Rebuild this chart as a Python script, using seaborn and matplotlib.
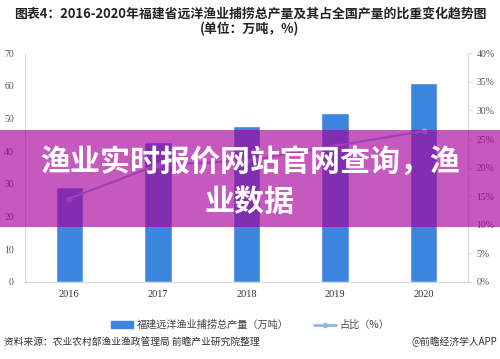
import matplotlib
matplotlib.use("Agg")
import matplotlib.pyplot as plt
from matplotlib.patches import Rectangle
from matplotlib.lines import Line2D
from matplotlib.ticker import FuncFormatter
import seaborn as sns
import pandas as pd

# data
years = ["2016", "2017", "2018", "2019", "2020"]
output = [29.0, 42.8, 47.8, 51.6, 60.8]      # 万吨
share = [14.6, 20.5, 21.2, 23.8, 26.4]       # %
left_ticks = [0, 10, 20, 30, 40, 50, 60, 70]
right_ticks = [0, 5, 10, 15, 20, 25, 30, 35, 40]

df = pd.DataFrame({"year": years, "output": output, "share": share})

sns.set_theme(style="white")
plt.rcParams["font.family"] = ["Noto Sans CJK SC", "DejaVu Sans"]

fig = plt.figure(figsize=(5, 3.59), dpi=100)
ax = fig.add_axes([0.05, 0.2145, 0.886, 0.637])

bar_color = "#3D86E0"
line_color = "#95B6E2"
grey = "#D9D9D9"
label_grey = "#555555"

sns.barplot(data=df, x="year", y="output", color=bar_color, width=0.31,
            saturation=1, ax=ax, zorder=2)
ax.set_ylim(0, 70)
ax.set_xlim(-0.5, 4.5)
ax.set_yticks(left_ticks)
ax.set_xlabel("")
ax.set_ylabel("")
ax.tick_params(axis="y", length=0, pad=8, labelsize=7, labelcolor=label_grey)
ax.tick_params(axis="x", length=0, pad=6, labelsize=7.5, labelcolor="#333333")
for lab in ax.get_xticklabels() + ax.get_yticklabels():
    lab.set_family(["Liberation Serif", "DejaVu Serif"])
for side in ["top", "right"]:
    ax.spines[side].set_visible(False)
ax.spines["left"].set_color(grey)
ax.spines["left"].set_linewidth(0.8)
ax.spines["bottom"].set_color(grey)
ax.spines["bottom"].set_linewidth(0.8)

ax2 = ax.twinx()
sns.pointplot(data=df, x="year", y="share", color=line_color, markers="o",
              markersize=3, linewidth=1.6, ax=ax2)
ax2.set_ylim(0, 40)
ax2.set_yticks(right_ticks)
ax2.yaxis.set_major_formatter(FuncFormatter(lambda v, p: f"{v:.0f}%"))
ax2.set_ylabel("")
ax2.set_xlabel("")
ax2.tick_params(axis="y", length=3, width=0.6, color=grey, pad=3,
                labelsize=7, labelcolor=label_grey)
for lab in ax2.get_yticklabels():
    lab.set_family(["Liberation Serif", "DejaVu Serif"])
for side in ["top", "left", "bottom"]:
    ax2.spines[side].set_visible(False)
ax2.spines["right"].set_color(grey)
ax2.spines["right"].set_linewidth(0.8)

# title
fig.text(0.5, 0.962, "图表4：2016-2020年福建省远洋渔业捕捞总产量及其占全国产量的比重变化趋势图",
         ha="center", va="center", fontsize=9.3, fontweight="bold", color="#222222")
fig.text(0.5, 0.920, "(单位：万吨，%)", ha="center", va="center",
         fontsize=9.3, fontweight="bold", color="#222222")

# legend
handles = [Rectangle((0, 0), 1, 1, color=bar_color),
           Line2D([0], [0], color=line_color, lw=2, marker="o", markersize=3)]
fig.legend(handles, ["福建远洋渔业捕捞总产量（万吨）", "占比（%）"],
           loc="center", bbox_to_anchor=(0.5, 0.095), ncol=2, frameon=False,
           fontsize=7.3, labelcolor="#444444", handlelength=2.2,
           handleheight=0.6, columnspacing=2.5, handletextpad=0.3)

# footer
fig.text(0.008, 0.047, "资料来源：农业农村部渔业渔政管理局 前瞻产业研究院整理",
         ha="left", va="center", fontsize=7, color="#333333")
fig.text(0.994, 0.047, "@前瞻经济学人APP", ha="right", va="center",
         fontsize=7, color="#333333")

# banner overlay
fig.add_artist(Rectangle((0, 0.369), 1, 0.2675, transform=fig.transFigure,
                         facecolor="#A8009A", alpha=0.65, edgecolor="none",
                         zorder=10))
fig.text(0.5, 0.494, "渔业实时报价网站官网查询，渔\n业数据", ha="center", va="center",
         fontsize=21.6, fontweight="heavy", color="white", linespacing=1.42,
         zorder=11)

fig.savefig("out.png", dpi=100)
